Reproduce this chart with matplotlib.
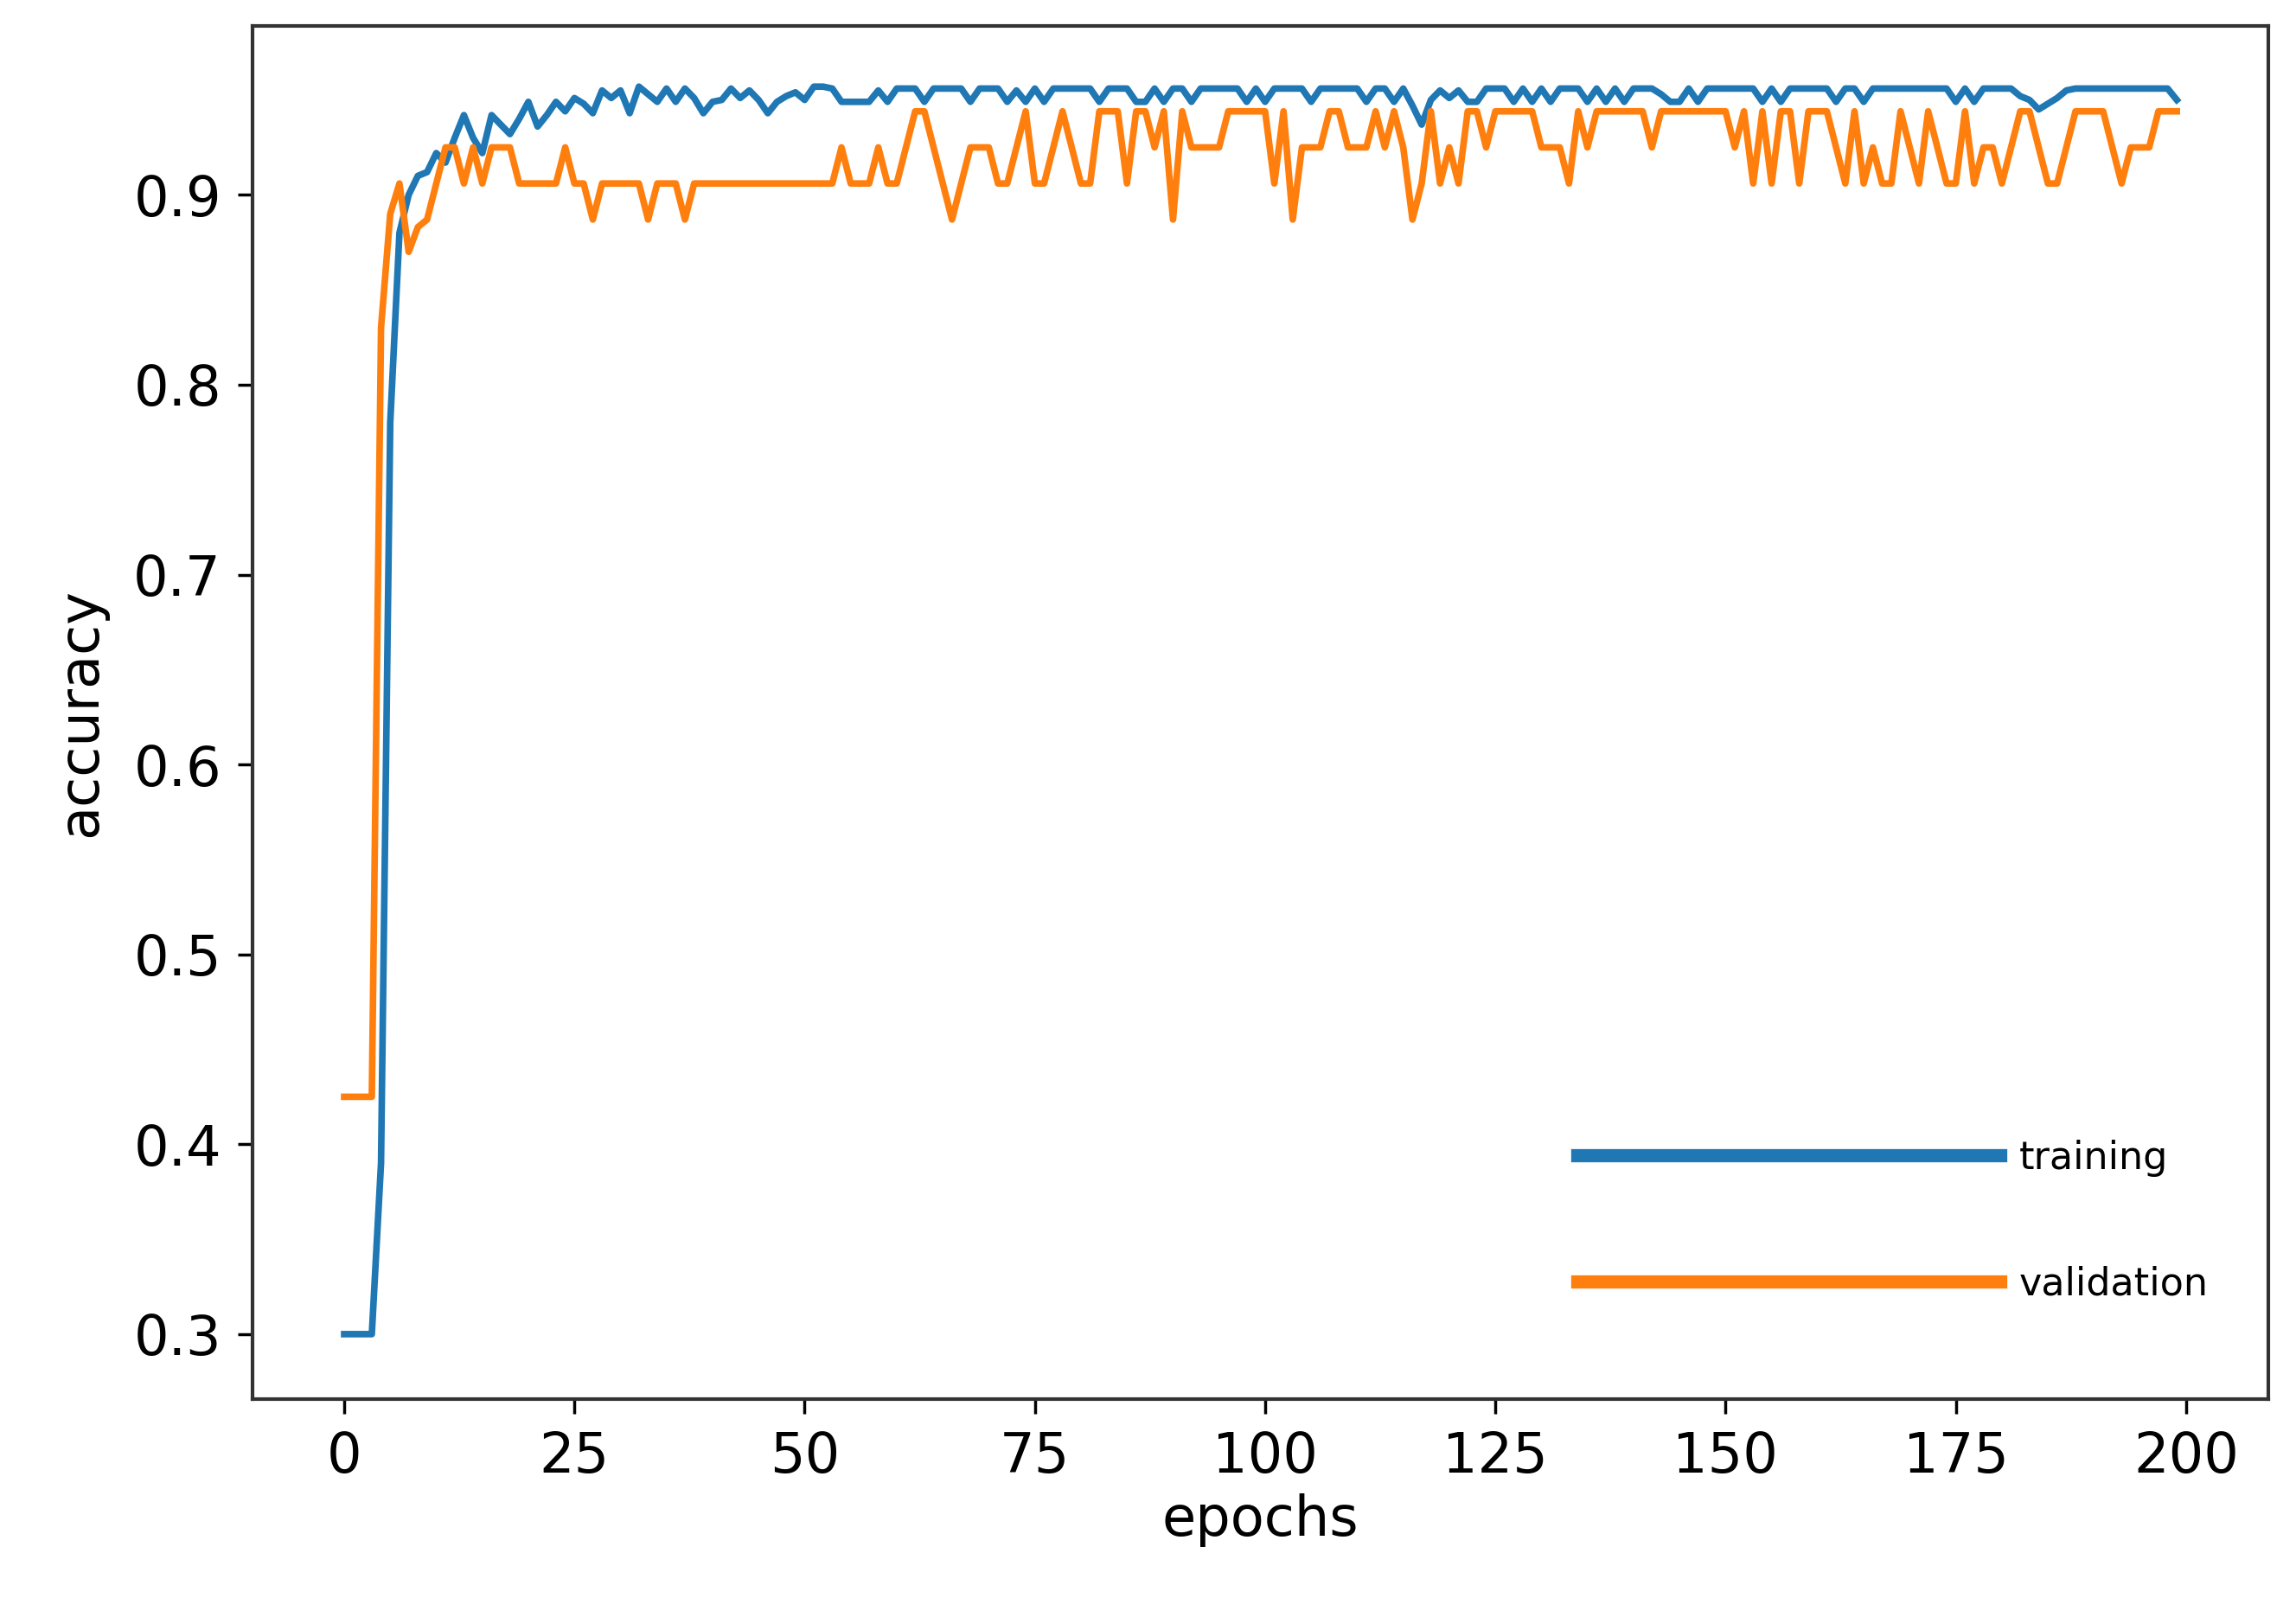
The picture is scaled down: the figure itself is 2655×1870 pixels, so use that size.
import matplotlib.pyplot as plt

# level shortcuts
T, D = 0.956, 0.949
A, B, C, E = 0.944, 0.925, 0.906, 0.887

training = ([0.30] * 4 +
            [0.39, 0.78, 0.88, 0.90, 0.91, 0.912, 0.922, 0.917, 0.93, 0.942,
             0.93, 0.922, 0.942, 0.937, 0.932, 0.94, 0.949, 0.936, 0.942, 0.949,
             0.944, 0.951, 0.948, 0.943, 0.955, 0.951, 0.955, 0.943, 0.957, 0.953,
             0.949, 0.956, 0.949, 0.956, 0.951, 0.943, 0.949, 0.950, 0.956, 0.951,
             0.955, 0.950, 0.943, 0.949, 0.952, 0.954, 0.950, 0.957, 0.957, 0.956] +
            [D, D, D, D, 0.955, D, T, T, T, D, T, T, T, T, D, T, T, T, D, 0.955,
             D, T, D, T, T, T, T, T, D, T, T, T, D, D, T, D, T, T, D, T,
             T, T, T, T, D, T, D, T, T, T, T, D, T, T, T, T, T, D, T, T,
             D, T, 0.947, 0.937, 0.950, 0.955, 0.951, 0.955, D, D, T, T, T, D, T, D,
             T, D, T, T, T, D, T, D, T, D, T, T, T, 0.953, D, D, T, D, T, T,
             T, T, T, T, D, T, D, T, T, T, T, T, D, T, T, D, T, T, T, T,
             T, T, T, T, T, D, T, D, T, T, T, T, 0.952, 0.950, 0.945, 0.948, 0.951, 0.955, T, T,
             T, T, T, T, T, T, T, T, T, 0.950])

validation = ([0.425] * 4 +
              [0.83, 0.89, 0.906, 0.87, 0.883, 0.887, 0.906, B, B, C, B, C, B, B, B, C,
               C, C, C, C, B, C, C, E, C, C, C, C, C, E, C, C, C, E] +
              [C] * 16 +
              [B, C, C, C, B, C, C, B, A, A, B, C, E, C, B, B, B, C, C, B,
               A, C, C, B, A, B, C, C, A, A, A, C, A, A, B, A, E, A, B, B,
               B, B, A, A, A, A, A, C, A, E, B, B, B, A, A, B, B, B, A, B,
               A, B, E, C, A, C, B, C, A, A, B, A, A, A, A, A, B, B, B, C,
               A, B, A, A, A, A, A, A, B, A, A, A, A, A, A, A, A, B, A, C,
               A, C, A, A, C, A, A, A, B, C, A, C, B, C, C, A, B, C, A, B,
               C, C, A, C, B, B, C, B, A, A, B, C, C, B, A, A, A, A, B, C,
               B, B, B, A, A, A])

n = min(len(training), len(validation))
training = training[:n]
validation = validation[:n]
epochs = list(range(n))

plt.rcParams['font.family'] = ['DejaVu Sans']
fig = plt.figure(figsize=(26.55, 18.7), dpi=100)
ax = fig.add_axes([0.110, 0.135, 0.878, 0.849])

ax.plot(epochs, training, color='#1f77b4', linewidth=5.5, label='training')
ax.plot(epochs, validation, color='#ff7f0e', linewidth=5.5, label='validation')

ax.set_ylim(0.266, 0.989)
ax.set_yticks([0.3, 0.4, 0.5, 0.6, 0.7, 0.8, 0.9])
ax.set_xticks([0, 25, 50, 75, 100, 125, 150, 175, 200])
ax.tick_params(labelsize=46, length=12, width=2.5, pad=14)
for s in ax.spines.values():
    s.set_linewidth(3)
    s.set_color('#333333')

ax.set_xlabel('epochs', fontsize=46, labelpad=8)
ax.set_ylabel('accuracy', fontsize=46, labelpad=22)

leg = ax.legend(loc='lower left', bbox_to_anchor=(0.64, 0.045), frameon=False,
                fontsize=32, handlelength=11, labelspacing=2.3, handletextpad=0.5)
for line in leg.get_lines():
    line.set_linewidth(11)

fig.savefig('out.png', dpi=100)
